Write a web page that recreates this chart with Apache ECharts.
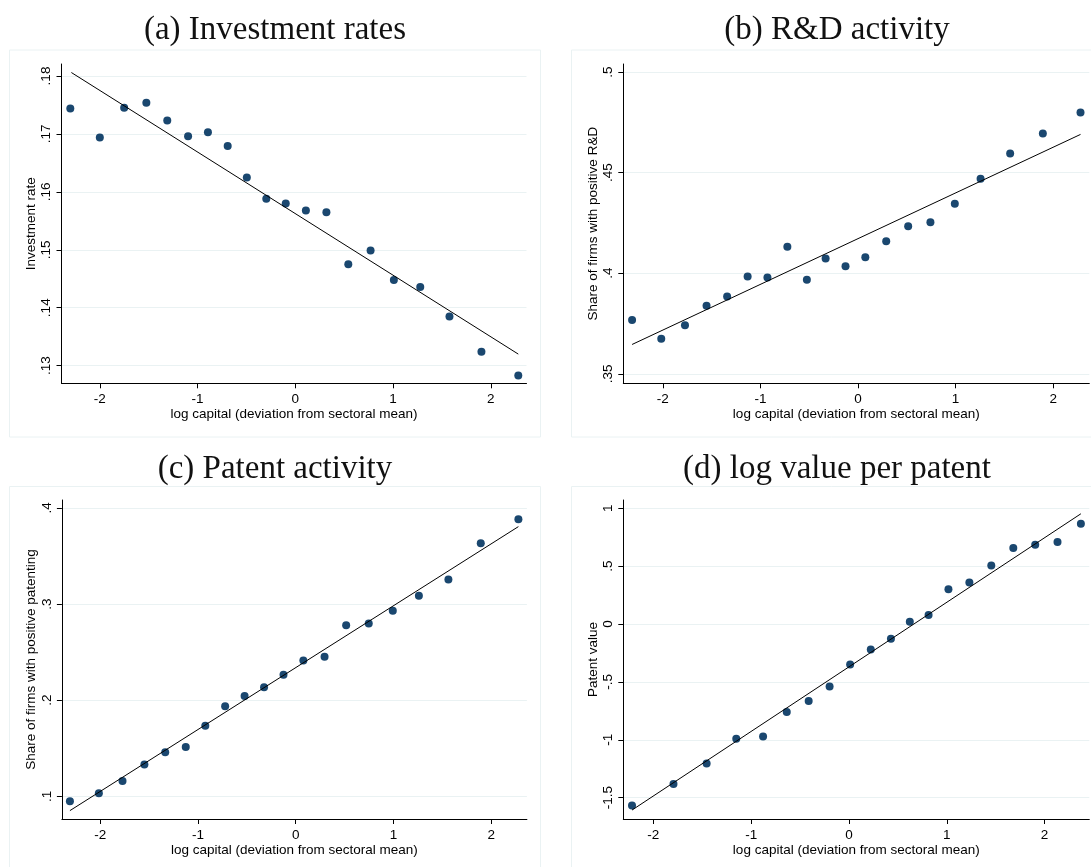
<!DOCTYPE html>
<html>
<head>
<meta charset="utf-8">
<script src="https://cdn.jsdelivr.net/npm/echarts@6/dist/echarts.min.js"></script>
<style>
  html, body { margin: 0; padding: 0; background: #fff; }
  #chart { width: 1091px; height: 867px; }
</style>
</head>
<body>
<div id="chart"></div>
<script>
// (a) Investment rates
const xA = [-2.302, -2.0, -1.751, -1.524, -1.310, -1.097, -0.894, -0.692, -0.496, -0.297,
            -0.098, 0.108, 0.318, 0.542, 0.770, 1.008, 1.278, 1.577, 1.904, 2.281];
const yA = [0.1744, 0.1694, 0.1745, 0.1754, 0.1723, 0.1696, 0.1703, 0.1679, 0.1625, 0.1588,
            0.1580, 0.1568, 0.1565, 0.1475, 0.1499, 0.1448, 0.1436, 0.1385, 0.1324, 0.1283];
const fitA = [[-2.291, 0.1806], [2.281, 0.1320]];

// (b) R&D activity
const xB = [-2.315, -2.016, -1.773, -1.552, -1.341, -1.131, -0.928, -0.724, -0.524, -0.332,
            -0.128, 0.075, 0.289, 0.514, 0.742, 0.992, 1.256, 1.559, 1.894, 2.280];
const yB = [0.3768, 0.3674, 0.3742, 0.3839, 0.3885, 0.3984, 0.3979, 0.4132, 0.3968, 0.4073,
            0.4035, 0.4080, 0.4159, 0.4233, 0.4254, 0.4346, 0.4470, 0.4595, 0.4695, 0.4799];
const fitB = [[-2.315, 0.3646], [2.280, 0.4690]];

// (c) Patent activity
const xC = [-2.310, -2.014, -1.772, -1.548, -1.335, -1.125, -0.925, -0.722, -0.523, -0.324,
            -0.125, 0.078, 0.295, 0.516, 0.747, 0.993, 1.260, 1.562, 1.893, 2.278];
const yC = [0.0948, 0.1031, 0.1160, 0.1330, 0.1458, 0.1513, 0.1735, 0.1937, 0.2044, 0.2134,
            0.2266, 0.2412, 0.2453, 0.2779, 0.2797, 0.2932, 0.3088, 0.3255, 0.3633, 0.3882];
const fitC = [[-2.310, 0.0851], [2.278, 0.3806]];

// (d) log value per patent
const xD = [-2.218, -1.794, -1.455, -1.152, -0.878, -0.636, -0.412, -0.198, 0.012, 0.223,
            0.429, 0.622, 0.814, 1.017, 1.231, 1.455, 1.680, 1.904, 2.132, 2.371];
const yD = [-1.567, -1.382, -1.204, -0.991, -0.971, -0.760, -0.665, -0.539, -0.349, -0.219,
            -0.127, 0.020, 0.078, 0.300, 0.360, 0.507, 0.657, 0.685, 0.709, 0.867];
const fitD = [[-2.218, -1.607], [2.371, 0.953]];

// tick labels
const xTicks = [-2, -1, 0, 1, 2];
const yTicksA = [0.13, 0.14, 0.15, 0.16, 0.17, 0.18];
const yTicksB = [0.35, 0.4, 0.45, 0.5];
const yTicksC = [0.1, 0.2, 0.3, 0.4];
const yTicksD = [-1.5, -1, -0.5, 0, 0.5, 1];

const titles = ['(a) Investment rates', '(b) R&D activity', '(c) Patent activity', '(d) log value per patent'];
const yNames = ['Investment rate', 'Share of firms with positive R&D',
                'Share of firms with positive patenting', 'Patent value'];
const xName = 'log capital (deviation from sectoral mean)';

const navy = '#1a476f';
const gridColor = '#eaf2f3';
const sans = 'Liberation Sans';

// Stata-style numbers: .5 instead of 0.5
const stata = (v) => String(v).replace(/^(-?)0\./, '$1.');

const chart = echarts.init(document.getElementById('chart'));

const panels = [
  { grid: { left: 61.5, top: 64, width: 465, height: 319.3 }, x: [-2.392, 2.365], y: [0.12696, 0.18207], yt: yTicksA, xs: xA, ys: yA, fit: fitA },
  { grid: { left: 623.3, top: 64, width: 466, height: 319.3 }, x: [-2.405, 2.37], y: [0.3453, 0.5040], yt: yTicksB, xs: xB, ys: yB, fit: fitB },
  { grid: { left: 61.9, top: 500, width: 465, height: 319 }, x: [-2.392, 2.365], y: [0.0764, 0.4083], yt: yTicksC, xs: xC, ys: yC, fit: fitC },
  { grid: { left: 623.3, top: 500, width: 466, height: 319 }, x: [-2.307, 2.457], y: [-1.684, 1.072], yt: yTicksD, xs: xD, ys: yD, fit: fitD },
];

const titleCenters = [[275, 14], [837, 14], [275, 453], [837, 453]];
const frames = [[9.5, 50, 531, 387], [571.5, 50, 531, 387], [9.5, 486.5, 531, 400], [571.5, 486.5, 531, 400]];

const option = {
  animation: false,
  backgroundColor: '#fff',
  title: titles.map((t, i) => ({
    text: t,
    left: titleCenters[i][0],
    top: titleCenters[i][1],
    textAlign: 'center',
    padding: 0,
    textStyle: { fontFamily: 'Liberation Serif', fontWeight: 'normal', fontSize: 33, color: '#111' },
  })),
  graphic: frames.map((f) => ({
    type: 'rect',
    shape: { x: f[0], y: f[1], width: f[2], height: f[3] },
    style: { fill: null, stroke: gridColor, lineWidth: 1 },
    silent: true,
    z: -1,
  })),
  grid: panels.map((p) => ({ ...p.grid, containLabel: false })),
  xAxis: panels.map((p, i) => ({
    gridIndex: i,
    type: 'value',
    min: p.x[0],
    max: p.x[1],
    name: xName,
    nameLocation: 'middle',
    nameGap: 23,
    nameTextStyle: { fontFamily: sans, fontSize: 13.5, color: '#000' },
    axisLine: { onZero: false, lineStyle: { color: '#000', width: 1 } },
    axisTick: { customValues: xTicks, length: 5, lineStyle: { color: '#000', width: 1 } },
    axisLabel: { customValues: xTicks, margin: 9, fontFamily: sans, fontSize: 13.5, color: '#000', formatter: stata },
    splitLine: { show: false },
  })),
  yAxis: panels.map((p, i) => ({
    gridIndex: i,
    type: 'value',
    min: p.y[0],
    max: p.y[1],
    name: yNames[i],
    nameLocation: 'middle',
    nameRotate: 90,
    nameGap: 23.5,
    nameTextStyle: { fontFamily: sans, fontSize: 13.5, color: '#000' },
    axisLine: { onZero: false, lineStyle: { color: '#000', width: 1 } },
    axisTick: { customValues: p.yt, length: 5, lineStyle: { color: '#000', width: 1 } },
    axisLabel: { customValues: p.yt, rotate: 90, margin: 8, fontFamily: sans, fontSize: 13.5, color: '#000', formatter: stata },
    splitLine: { show: true, lineStyle: { color: gridColor, width: 1 } },
  })),
  series: panels.flatMap((p, i) => [
    {
      type: 'scatter',
      xAxisIndex: i,
      yAxisIndex: i,
      data: p.xs.map((x, k) => [x, p.ys[k]]),
      symbolSize: 8,
      itemStyle: { color: navy, opacity: 1 },
    },
    {
      type: 'line',
      xAxisIndex: i,
      yAxisIndex: i,
      data: p.fit,
      showSymbol: false,
      symbol: 'none',
      lineStyle: { color: '#000', width: 1 },
    },
  ]),
};

chart.setOption(option);
</script>
</body>
</html>
